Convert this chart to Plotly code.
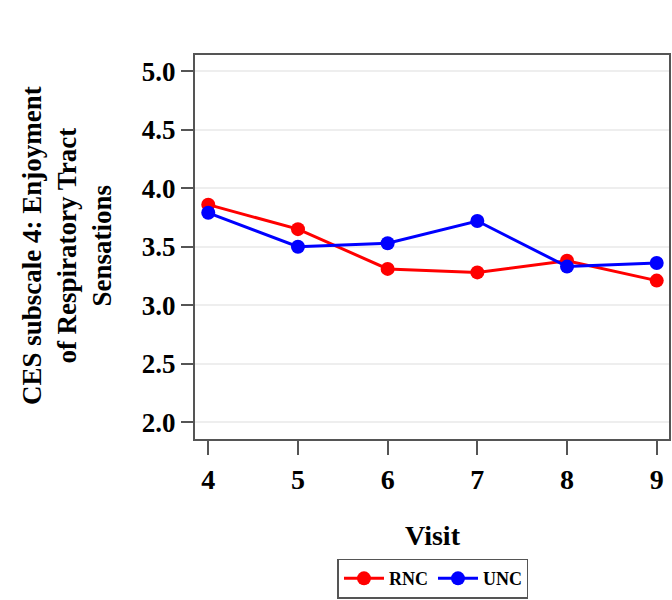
import plotly.graph_objects as go

visits = [4, 5, 6, 7, 8, 9]
rnc = [3.86, 3.65, 3.31, 3.28, 3.38, 3.21]
unc = [3.79, 3.50, 3.53, 3.72, 3.33, 3.36]
y_ticks = [2.0, 2.5, 3.0, 3.5, 4.0, 4.5, 5.0]
y_labels = ["2.0", "2.5", "3.0", "3.5", "4.0", "4.5", "5.0"]

FONT = "Liberation Serif"

fig = go.Figure()
fig.add_trace(go.Scatter(x=visits, y=rnc, name="RNC", mode="lines+markers",
                         line=dict(color="#ff0000", width=3),
                         marker=dict(color="#ff0000", size=14)))
fig.add_trace(go.Scatter(x=visits, y=unc, name="UNC", mode="lines+markers",
                         line=dict(color="#0000ff", width=3),
                         marker=dict(color="#0000ff", size=14)))

axis_common = dict(showline=True, linecolor="#555555", linewidth=2, mirror=True,
                   ticks="outside", tickcolor="#555555", tickwidth=2,
                   zeroline=False)

fig.update_xaxes(range=[3.852, 9.137], tickvals=visits, ticktext=[str(v) for v in visits],
                 ticklen=14, showgrid=False,
                 tickfont=dict(family=FONT, size=28, color="black", weight="bold"),
                 **axis_common)
fig.update_yaxes(range=[1.855, 5.14], tickvals=y_ticks, ticktext=y_labels,
                 ticklen=12, showgrid=True, gridcolor="#eeeeee", gridwidth=1.5,
                 tickfont=dict(family=FONT, size=27, color="black", weight="bold"),
                 **axis_common)

fig.add_annotation(text="CES subscale 4: Enjoyment<br>of Respiratory Tract<br>Sensations",
                   xref="paper", yref="paper", x=(66 - 195) / 476, y=(440 - 246) / 385,
                   xanchor="center", yanchor="middle", textangle=-90, showarrow=False,
                   font=dict(family=FONT, size=27, color="black", weight="bold"))
fig.add_annotation(text="Visit", xref="paper", yref="paper",
                   x=(434 - 195) / 476, y=(440 - 537) / 385,
                   xanchor="center", yanchor="middle", showarrow=False,
                   font=dict(family=FONT, size=28, color="black", weight="bold"))

fig.update_layout(
    width=672, height=600,
    margin=dict(l=195, r=1, t=55, b=160),
    plot_bgcolor="white", paper_bgcolor="white",
    showlegend=True,
    legend=dict(orientation="h", x=(434 - 195) / 476, y=(440 - 580) / 385,
                xanchor="center", yanchor="middle",
                bordercolor="#555555", borderwidth=1.5,
                font=dict(family=FONT, size=18, color="black", weight="bold"),
                itemwidth=40, tracegroupgap=0),
)

fig.write_html("out.html")
